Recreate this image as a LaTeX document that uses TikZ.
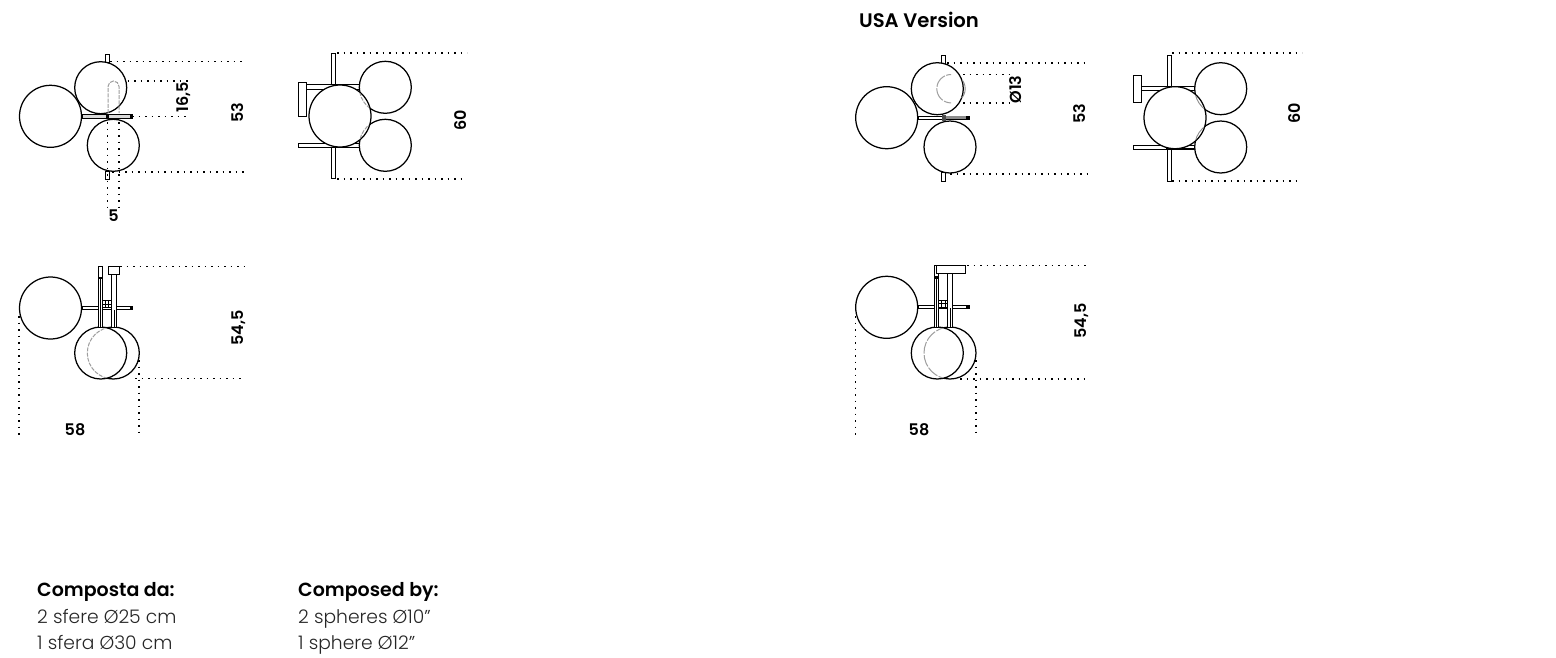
\documentclass[tikz,border=0pt]{standalone}
\usepackage{fontspec}
\setmainfont{Poppins}[UprightFont=* Light,BoldFont=* SemiBold]
\tikzset{
  ln/.style={line width=1.25pt,black},
  sphere/.style={ln,fill=white},
  bar/.style={line width=1pt,black,fill=white},
  dots/.style={line width=1.7pt,black,dash pattern=on 1.8pt off 4.7pt},
  hid/.style={line width=1pt,black!38,dash pattern=on 4pt off 1.2pt},
  dim/.style={font=\bfseries\fontsize{16}{18}\selectfont,inner sep=0pt},
  dimr/.style={dim,rotate=90},
  head/.style={font=\bfseries\fontsize{19}{22}\selectfont,inner sep=0pt,anchor=base west},
  body/.style={font=\fontsize{18.7}{22}\selectfont,inner sep=0pt,anchor=base west,text=black!85}
}
\begin{document}
\begin{tikzpicture}[x=1pt,y=-1pt]
\useasboundingbox (0,0) rectangle (1556,657);
% ---- diagram 1
\draw[bar] (105,54) rectangle (109,62);
\draw[bar] (105,171) rectangle (109,179);
\draw[dots] (110,61.5) -- (244,61.5);
\draw[dots] (112,172) -- (244,172);
\draw[dots] (108,81) -- (188,81);
\draw[dots] (132,116.5) -- (188,116.5);
\draw[sphere] (50.5,116.3) circle (31);
\draw[sphere] (100.7,87.7) circle (26);
\draw[sphere] (113.3,145.3) circle (26);
\draw[hid] (108,113) -- (108,86.5) arc (180:360:5.5) -- (119,113);
\draw[dots] (107.5,122) -- (107.5,211);
\draw[dots] (119,122) -- (119,211);
\draw[bar,line width=1.2pt,fill=black!15] (82,114.7) rectangle (132,118.2);
\fill (129.5,114.7) rectangle (132.5,118.2);
\fill (105.5,113.8) rectangle (109,119.4);
\node[dimr] (a16) at (183.5,97) {16,5};
\node[dimr] (a53) at (238,112.5) {53};
\node[dim] (a5) at (113.5,216) {5};
% ---- diagram 2
\draw[bar] (331.7,53.3) rectangle (335.7,90);
\draw[bar] (331.7,143) rectangle (335.7,178.7);
\draw[bar] (298.3,82) rectangle (306.7,116.7);
\draw[bar] (306.7,84.5) rectangle (360,89.2);
\draw[bar] (298.3,143.3) rectangle (360,147.7);
\draw[dots] (337,53) -- (467,53);
\draw[dots] (337,179) -- (464,179);
\draw[sphere] (385.3,87.3) circle (26);
\draw[sphere] (385.3,145.3) circle (26);
\draw[sphere] (340,116) circle (31);
\begin{scope}
\clip (340,116) circle (30.4);
\draw[hid] (385.3,87.3) circle (26);
\draw[hid] (385.3,145.3) circle (26);
\end{scope}
\node[dimr] (b60) at (461,120) {60};
% ---- diagram 3
\draw[dots] (120,266.5) -- (244,266.5);
\draw[dots] (135,378.5) -- (244,378.5);
\draw[dots] (19,316) -- (19,437);
\draw[dots] (139,360) -- (139,437);
\draw[sphere] (50.5,308) circle (31);
\draw[sphere] (113.3,353) circle (26);
\draw[sphere] (100.7,353) circle (26);
\begin{scope}
\clip (100.7,353) circle (25.5);
\draw[hid] (113.3,353) circle (26);
\end{scope}
\draw[bar] (82,306.3) rectangle (132,309.7);
\fill (129.5,306.3) rectangle (132.5,309.7);
\draw[bar] (102,300) rectangle (112,307.7);
\draw[line width=0.6pt] (105.3,300) -- (105.3,307.7) (108.6,300) -- (108.6,307.7) (102,303.8) -- (112,303.8);
\draw[bar] (98.3,266) rectangle (102.7,327);
\draw[line width=0.7pt] (100.5,278) -- (100.5,327);
\draw[bar] (111.8,274) rectangle (116.6,327);
\draw[line width=0.7pt] (114.2,310) -- (114.2,327);
\draw[bar] (108.3,266.3) rectangle (119.3,274.7);
\fill (98.5,277) rectangle (102.5,279);
\node[dim] (c58) at (75,429.5) {58};
\node[dimr] (c545) at (239,328) {54,5};
% ---- USA diagram 1
\node[font=\bfseries\fontsize{19.6}{22}\selectfont,inner sep=0pt] (usa) at (919,20) {USA Version};
\draw[bar] (941.7,55.5) rectangle (945.7,64);
\draw[bar] (941.7,172.5) rectangle (945.7,181);
\draw[dots] (947,62.7) -- (1087,62.7);
\draw[dots] (950,174) -- (1087,174);
\draw[dots] (963,74.5) -- (1010,74.5);
\draw[dots] (950,103) -- (1010,103);
\draw[sphere] (886.7,117.7) circle (31);
\draw[sphere] (937.3,88.7) circle (26);
\draw[sphere] (950,147) circle (26);
\begin{scope}
\clip (930,70) rectangle (951,108);
\draw[hid,line width=1pt,dash pattern=on 14pt off 1.5pt] (951,88.7) circle (14.2);
\end{scope}
\begin{scope}
\clip (960,80) rectangle (970,97);
\draw[line width=0.9pt,black!45] (951,88.7) circle (14.2);
\end{scope}
\draw[bar] (918,116) rectangle (969,119.5);
\fill[black!45] (946,116.4) rectangle (966,119.1);
\fill (966,116) rectangle (969.5,119.5);
\fill[black!70] (941.7,114.8) rectangle (945.7,120.8);
\node[dimr] (d13) at (1016,89.5) {Ø13};
\node[dimr] (d53) at (1080,114) {53};
% ---- USA diagram 2
\draw[bar] (1167,55) rectangle (1171,90);
\draw[bar] (1167,145) rectangle (1171,181);
\draw[bar] (1133.7,75) rectangle (1141,102.3);
\draw[bar] (1141,86) rectangle (1195,90);
\draw[line width=1.4pt] (1141,86.4) -- (1190,86.4);
\draw[bar] (1133.7,145) rectangle (1195,149);
\fill (1166,148.2) rectangle (1195,149.4);
\draw[dots] (1172,52.7) -- (1302,52.7);
\draw[dots] (1172,181) -- (1301,181);
\draw[sphere] (1220.7,88.7) circle (26);
\draw[sphere] (1220.7,147) circle (26);
\draw[sphere] (1175,117.7) circle (31);
\begin{scope}
\clip (1175,117.7) circle (30.4);
\draw[line width=0.9pt,black!45] (1220.7,88.7) circle (26);
\draw[line width=0.9pt,black!45] (1220.7,147) circle (26);
\end{scope}
\node[dimr] (e60) at (1295,113) {60};
% ---- USA diagram 3
\draw[dots] (967,265.5) -- (1087,265.5);
\draw[dots] (960,379) -- (1087,379);
\draw[dots] (855.5,316) -- (855.5,437);
\draw[dots] (976,360) -- (976,437);
\draw[sphere] (886.7,307.3) circle (31);
\draw[sphere] (950,353) circle (26);
\draw[sphere] (937.3,353) circle (26);
\begin{scope}
\clip (937.3,353) circle (25.5);
\draw[hid,line width=1pt,dash pattern=on 12pt off 1.5pt] (950,353) circle (26);
\end{scope}
\draw[bar] (918,305.5) rectangle (969,308.8);
\fill (966,305.5) rectangle (969.5,308.8);
\draw[bar] (938,300) rectangle (949,307);
\draw[line width=0.6pt] (941.7,300) -- (941.7,307) (945.4,300) -- (945.4,307) (938,303.5) -- (949,303.5);
\draw[bar] (934.3,265) rectangle (938.3,327);
\draw[line width=0.7pt] (936.3,278) -- (936.3,327);
\draw[bar] (947.7,273) rectangle (952.3,327);
\draw[line width=0.7pt] (950,308) -- (950,327);
\draw[bar] (936.7,265.3) rectangle (965,273);
\fill (934.5,276) rectangle (938,279);
\node[dim] (f58) at (919,429.5) {58};
\node[dimr] (f545) at (1082,321) {54,5};
% ---- text blocks
\node[head] (t1) at (37,596.7) {Composta da:};
\node[body] (t2) at (37,623.7) {2 sfere Ø25 cm};
\node[body] (t3) at (37,649.7) {1 sfera Ø30 cm};
\node[head] (t4) at (298,596.7) {Composed by:};
\node[body] (t5) at (298,623.7) {2 spheres Ø10”};
\node[body] (t6) at (298,649.7) {1 sphere Ø12”};
\end{tikzpicture}
\end{document}
